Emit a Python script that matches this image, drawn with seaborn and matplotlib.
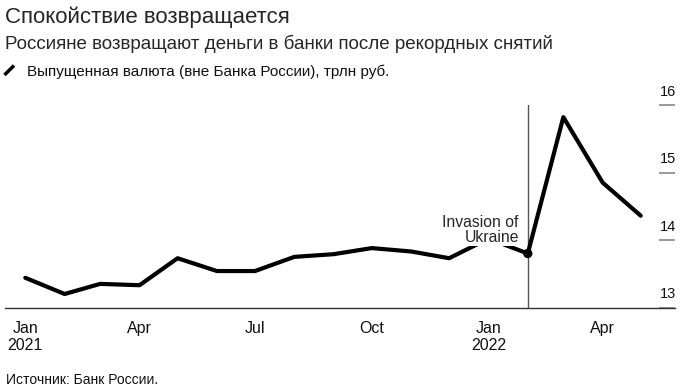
import pandas as pd
import seaborn as sns
import matplotlib.pyplot as plt
from matplotlib.lines import Line2D
from matplotlib.transforms import blended_transform_factory, offset_copy

# данные: выпущенная валюта (вне Банка России), трлн руб., на начало месяца
months = pd.date_range('2021-01-01', '2022-05-01', freq='MS')
values = [13.44, 13.20, 13.35, 13.33, 13.73, 13.54, 13.54, 13.75, 13.79,
          13.88, 13.83, 13.73, 14.02, 13.80, 15.82, 14.85, 14.36]
invasion_date = pd.Timestamp('2022-02-01')

xtick_dates = pd.to_datetime(['2021-01-01', '2021-04-01', '2021-07-01',
                              '2021-10-01', '2022-01-01', '2022-04-01'])
xtick_labels = ['Jan\n2021', 'Apr', 'Jul', 'Oct', 'Jan\n2022', 'Apr']
yticks = [13, 14, 15, 16]

title = 'Спокойствие возвращается'
subtitle = 'Россияне возвращают деньги в банки после рекордных снятий'
legend_text = 'Выпущенная валюта (вне Банка России), трлн руб.'
source = 'Источник: Банк России.'

df = pd.DataFrame({'date': months, 'value': values})

sns.set_style('white')
plt.rcParams['font.family'] = ['Liberation Sans', 'DejaVu Sans']

W, H = 691, 392
fig = plt.figure(figsize=(W / 100, H / 100), dpi=100)
ax = fig.add_axes([5 / W, 1 - 307.5 / H, 670 / W, 202.5 / H])

ax.axvline(invasion_date, color='#555555', lw=1, zorder=1)
sns.lineplot(data=df, x='date', y='value', ax=ax, color='black',
             linewidth=3, zorder=3)
pt = df[df['date'] == invasion_date]
sns.scatterplot(data=pt, x='date', y='value', ax=ax, color='black',
                s=45, edgecolor='none', zorder=4)

ax.annotate('Invasion of\nUkraine', xy=(invasion_date, pt['value'].iloc[0]),
            xytext=(-6.5, 17), textcoords='offset points', ha='right',
            va='center', fontsize=11.3, linespacing=0.95, zorder=5,
            bbox=dict(fc='white', ec='none', pad=1))

ax.set_xlim(pd.Timestamp('2020-12-16'), pd.Timestamp('2022-05-28'))
ax.set_ylim(13, 16)
ax.set_xticks(xtick_dates)
ax.set_xticklabels(xtick_labels, fontsize=11.5, linespacing=1.15)
ax.set_yticks(yticks)
ax.tick_params(axis='x', direction='out', length=6, width=1,
               color='#333333', pad=4, labelcolor='#111111')
ax.tick_params(axis='y', left=False, right=True, direction='in',
               length=11.5, width=1.2, color='#888888',
               labelleft=False, labelright=False)
ax.set_xlabel('')
ax.set_ylabel('')
sns.despine(ax=ax, left=True, right=True, top=True)
ax.spines['bottom'].set_color('#333333')
ax.spines['bottom'].set_linewidth(1)

# подписи оси Y над короткими штрихами справа
tr = offset_copy(blended_transform_factory(ax.transAxes, ax.transData),
                 fig=fig, x=1, y=4.5, units='points')
for v in yticks:
    ax.text(1, v, str(v), transform=tr, ha='right', va='bottom',
            fontsize=10.5, color='#111111')

fig.text(5 / W, 1 - 23.5 / H, title, fontsize=16, va='baseline')
fig.text(5 / W, 1 - 49 / H, subtitle, fontsize=13.5, va='baseline')
fig.add_artist(Line2D([4.5 / W, 14 / W], [1 - 75 / H, 1 - 65.5 / H],
                      transform=fig.transFigure, color='black', lw=2.5,
                      solid_capstyle='butt'))
fig.text(27 / W, 1 - 76 / H, legend_text, fontsize=11, va='baseline',
         color='#111111')
fig.text(6 / W, 1 - 384 / H, source, fontsize=10, va='baseline',
         color='#111111')

fig.savefig('out.png', dpi=100)
